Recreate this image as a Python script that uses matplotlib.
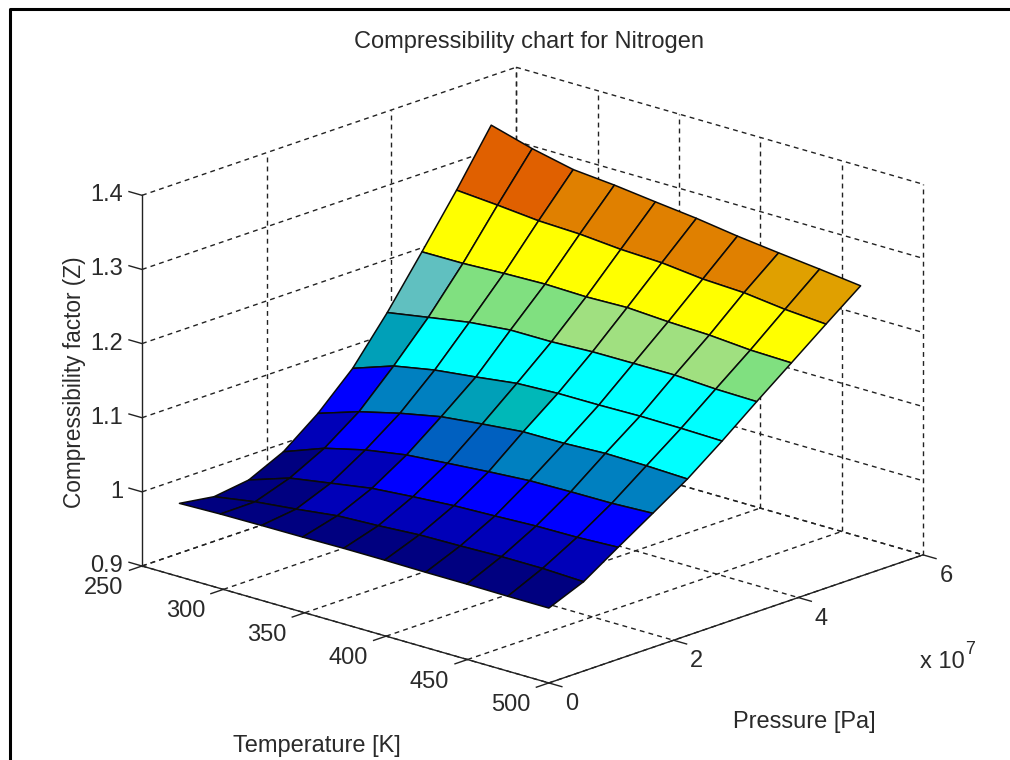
import matplotlib
matplotlib.use("Agg")
import matplotlib.pyplot as plt
import numpy as np
from matplotlib.colors import to_rgba
from matplotlib.lines import Line2D
from mpl_toolkits.mplot3d import proj3d

plt.rcParams['font.family'] = ['Liberation Sans', 'DejaVu Sans']

# Temperature [K], pressure [Pa] of the surface grid
temperature = [273, 298.2, 323.4, 348.7, 373.9, 399.1, 424.3, 449.6, 474.8, 500]
pressure = [0, 0.556e7, 1.111e7, 1.667e7, 2.222e7, 2.778e7, 3.333e7, 3.889e7, 4.444e7, 5.0e7]

# Compressibility factor, one row per pressure
z_p0 = [0.999, 1.0005, 1.001, 1.0013, 1.002, 1.002, 1.0015, 1.0015, 1.001, 1.001]
z_p1 = [0.992, 1.001, 1.007, 1.014, 1.0165, 1.020, 1.021, 1.0225, 1.0225, 1.0205]
z_p2 = [0.9985, 1.017, 1.026, 1.035, 1.0396, 1.0434, 1.0454, 1.0478, 1.0485, 1.051]
z_p3 = [1.0206, 1.0412, 1.0548, 1.064, 1.0687, 1.0732, 1.077, 1.078, 1.0784, 1.0808]
z_p4 = [1.0564, 1.0745, 1.0883, 1.0996, 1.1057, 1.1111, 1.1114, 1.1138, 1.113, 1.1111]
z_p5 = [1.1011, 1.1202, 1.1306, 1.1372, 1.1445, 1.1469, 1.1471, 1.1481, 1.1475, 1.1463]
z_p6 = [1.1604, 1.1698, 1.179, 1.1845, 1.1846, 1.187, 1.1873, 1.1875, 1.1845, 1.1835]
z_p7 = [1.2263, 1.2266, 1.229, 1.2305, 1.2292, 1.2307, 1.2274, 1.2254, 1.2211, 1.2197]
z_p8 = [1.2935, 1.2892, 1.284, 1.282, 1.2773, 1.2751, 1.2691, 1.2666, 1.26, 1.256]
z_p9 = [1.3652, 1.3494, 1.3371, 1.3321, 1.3254, 1.3191, 1.311, 1.3044, 1.2983, 1.2917]

# Cell colours (flat shaded), letters index the palette below
palette = {
    "a": "#000080", "b": "#0000b8", "c": "#0000ff", "d": "#0060c0", "e": "#0080c0",
    "f": "#00a0b8", "g": "#00b8b8", "h": "#00ffff", "i": "#60c0c0", "j": "#80e080",
    "k": "#a0e080", "l": "#ffff00", "m": "#e06000", "n": "#e08000", "o": "#e0a000",
}
cells_p0 = "aaaaaaaaa"
cells_p1 = "aabbbbbbb"
cells_p2 = "abbcccccc"
cells_p3 = "bccddeeee"
cells_p4 = "ceefghhhh"
cells_p5 = "fhhhhhhhh"
cells_p6 = "ijjjkkkkj"
cells_p7 = "lllllllll"
cells_p8 = "mmnnnnnoo"

temp_ticks = [250, 300, 350, 400, 450, 500]
pres_ticks = [0, 2e7, 4e7, 6e7]
pres_labels = ["0", "2", "4", "6"]
z_ticks = [0.9, 1.0, 1.1, 1.2, 1.3, 1.4]
z_labels = ["0.9", "1", "1.1", "1.2", "1.3", "1.4"]

W, H = 1010, 760
fig = plt.figure(figsize=(W / 100, H / 100), dpi=100)
ax = fig.add_axes([0, 0, 1, 1], projection='3d', computed_zorder=False, proj_type='ortho')
ax.set_axis_off()
ax.set_box_aspect((552, 554, 390.5))
ax.view_init(elev=18.28, azim=-47.5)
tmin, tmax = temp_ticks[0], temp_ticks[-1]
pmin, pmax = pres_ticks[0], pres_ticks[-1]
zmin, zmax = z_ticks[0], z_ticks[-1]
ax.set_xlim(tmin, tmax)
ax.set_ylim(pmin, pmax)
ax.set_zlim(zmin, zmax)


def to_px(x, y, z):
    px, py, _ = proj3d.proj_transform(x, y, z, ax.get_proj())
    return ax.transData.transform((px, py))


# place the axes so the box corners land where they are in the picture
ax.apply_aspect()
a = to_px(tmin, pmin, zmin)
b = to_px(tmax, pmax, zmin)
scale = (923 - 142) / (b[0] - a[0])
size = H * scale
cx = 142 - (a[0] - W / 2) * scale
cy = (H - 566) - (a[1] - H / 2) * scale
ax.set_position([(cx - size / 2) / W, (cy - size / 2) / H, size / W, size / H])
ax.apply_aspect()

grid = dict(color="#222222", lw=1.0, ls=(0, (3.5, 3)), zorder=1)
solid = dict(color="#222222", lw=1.0, zorder=2)

# dashed grid on the floor and the two back walls
for t in temp_ticks:
    ax.plot([t, t], [pmin, pmax], [zmin, zmin], **grid)
    ax.plot([t, t], [pmax, pmax], [zmin, zmax], **grid)
for p in pres_ticks:
    ax.plot([tmin, tmax], [p, p], [zmin, zmin], **grid)
    if p > 0:
        ax.plot([tmin, tmin], [p, p], [zmin, zmax], **grid)
for z in z_ticks:
    ax.plot([tmin, tmin], [pmin, pmax], [z, z], **grid)
    ax.plot([tmin, tmax], [pmax, pmax], [z, z], **grid)

# solid axes and ticks
ax.plot([tmin, tmax], [pmin, pmin], [zmin, zmin], **solid)
ax.plot([tmax, tmax], [pmin, pmax], [zmin, zmin], **solid)
ax.plot([tmin, tmin], [pmin, pmin], [zmin, zmax], **solid)
for t in temp_ticks:
    ax.plot([t, t], [pmin - 0.2e7, pmin], [zmin, zmin], **solid)
for p in pres_ticks:
    ax.plot([tmax, tmax + 8], [p, p], [zmin, zmin], **solid)
for z in z_ticks:
    ax.plot([tmin - 8, tmin], [pmin, pmin], [z, z], **solid)

X, Y = np.meshgrid(temperature, pressure)
Z = np.array([z_p0, z_p1, z_p2, z_p3, z_p4, z_p5, z_p6, z_p7, z_p8, z_p9])
rows = [cells_p0, cells_p1, cells_p2, cells_p3, cells_p4, cells_p5, cells_p6, cells_p7, cells_p8]
face = np.array([[to_rgba(palette[c]) for c in row] for row in rows])
ax.plot_surface(X, Y, Z, facecolors=face, rstride=1, cstride=1, shade=False,
                edgecolor="#0a0a0a", linewidth=1.1, antialiased=True, zorder=3)

txt = dict(fontsize=17, color="#2a2a2a")


def tick_label(text, x, y, z, dx, dy, ha="center"):
    px, py, _ = proj3d.proj_transform(x, y, z, ax.get_proj())
    ax.annotate(text, xy=(px, py), xytext=(dx, dy), textcoords="offset pixels",
                ha=ha, va="center", **txt)


for t in temp_ticks:
    tick_label(str(t), t, pmin, zmin, -38, -22)
for p, s in zip(pres_ticks, pres_labels):
    tick_label(s, tmax, p, zmin, 23, -21)
for z, s in zip(z_ticks, z_labels):
    tick_label(s, tmin, pmin, z, -19, 0, ha="right")

fig.text(529 / W, 1 - 42 / H, "Compressibility chart for Nitrogen", ha="center", va="center", **txt)
fig.text(317 / W, 1 - 746 / H, "Temperature [K]", ha="center", va="center", **txt)
fig.text(804 / W, 1 - 722 / H, "Pressure [Pa]", ha="center", va="center", **txt)
fig.text(75 / W, 1 - 382 / H, "Compressibility factor (Z)", rotation=90, ha="center", va="center",
         fontsize=16.3, color="#2a2a2a")
fig.text(920 / W, 1 - 662 / H, "x 10", ha="left", va="center", **txt)
fig.text(965 / W, 1 - 649 / H, "7", ha="left", va="center", fontsize=13, color="#2a2a2a")

# black frame around the plot window, cut off by the image edge
fig.add_artist(Line2D([10 / W, 10 / W, 1], [0, 1 - 9 / H, 1 - 9 / H], color="black", lw=2.2))

fig.savefig("out.png", dpi=100)
